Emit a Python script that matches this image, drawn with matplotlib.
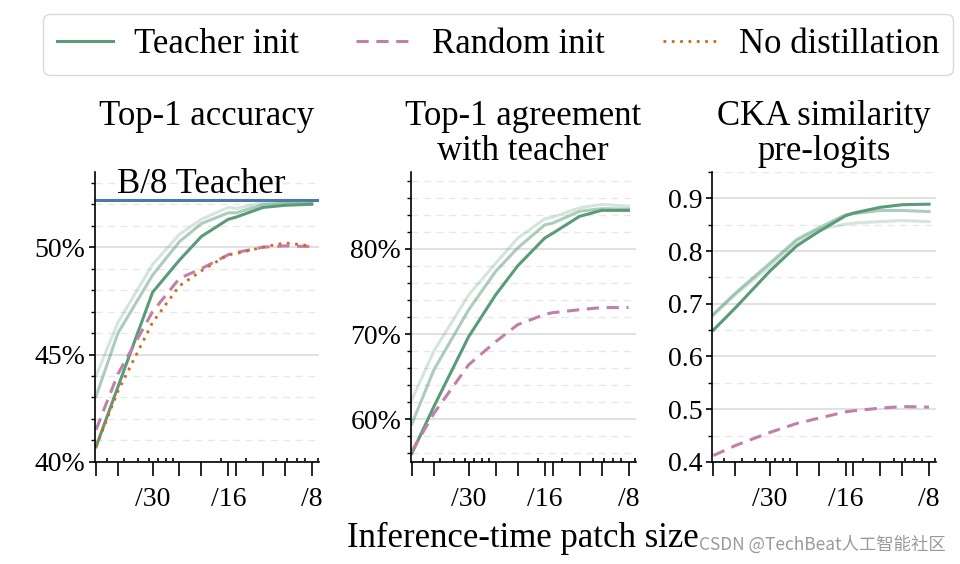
"""
Distillation init comparison across inference-time patch sizes.
Three panels: accuracy, agreement with teacher, CKA similarity.
"""
import numpy as np
import matplotlib
matplotlib.use("Agg")
import matplotlib.pyplot as plt
from matplotlib.lines import Line2D
from matplotlib.ticker import FixedLocator, LogLocator, MultipleLocator, NullFormatter

plt.rcParams['font.family'] = ['Liberation Serif', 'DejaVu Serif']
plt.rcParams['font.size'] = 20
BIG = 25

GREEN = '#5a9b7a'
PURPLE = '#c080aa'
ORANGE = '#d2691e'
BLUE = '#4a78b0'

# Inference-time patch sizes (x axis is log of token count at res 240)
patch_sizes = [48, 40, 30, 24, 20, 16, 15, 12, 10, 8]
labelled_patches = [30, 16, 8]

# Top-1 accuracy (%)
acc_teacher = [40.7, 43.5, 47.9, 49.4, 50.5, 51.3, 51.4, 51.85, 51.95, 52.0]
acc_teacher_mid = [43.05, 46.0, 48.7, 50.26, 51.1, 51.6, 51.6, 51.97, 52.05, 52.07]
acc_teacher_light = [44.0, 46.5, 49.2, 50.6, 51.3, 51.85, 51.8, 52.07, 52.1, 52.1]
acc_random = [41.5, 44.1, 47.0, 48.55, 49.0, 49.65, 49.75, 50.0, 50.06, 50.03]
acc_nodistill = [40.7, 43.3, 46.5, 48.2, 48.9, 49.65, 49.7, 50.0, 50.2, 50.06]
b8_teacher_acc = 52.22

# Top-1 agreement with teacher (%)
agree_teacher = [56.0, 61.5, 69.7, 74.6, 78.0, 81.25, 81.8, 83.8, 84.5, 84.5]
agree_teacher_mid = [59.45, 65.8, 72.85, 77.35, 80.1, 82.8, 83.0, 84.4, 84.7, 84.65]
agree_teacher_light = [62.3, 68.0, 74.6, 78.3, 81.25, 83.5, 83.7, 84.8, 85.2, 85.0]
agree_random = [56.25, 60.7, 66.4, 69.1, 71.1, 72.3, 72.5, 72.85, 73.1, 73.1]

# CKA similarity of pre-logits
cka_teacher = [0.65, 0.692, 0.762, 0.81, 0.837, 0.867, 0.872, 0.883, 0.888, 0.889]
cka_teacher_mid = [0.68, 0.72, 0.777, 0.822, 0.844, 0.869, 0.871, 0.877, 0.877, 0.875]
cka_teacher_light = [0.678, 0.717, 0.771, 0.818, 0.841, 0.851, 0.853, 0.856, 0.858, 0.856]
cka_random = [0.412, 0.431, 0.456, 0.473, 0.483, 0.495, 0.497, 0.502, 0.505, 0.504]


def tokens(p):
    return (240.0 / np.asarray(p, dtype=float)) ** 2


def style_axis(ax, ylim, major, minor, fmt):
    ax.set_xscale('log')
    ax.set_xlim(24.6, 1010)
    ax.xaxis.set_major_locator(FixedLocator(tokens(patch_sizes)))
    ax.set_xticklabels([f'/{p}' if p in labelled_patches else '' for p in patch_sizes])
    ax.xaxis.set_minor_locator(LogLocator(base=10, subs=np.arange(1, 10), numticks=20))
    ax.xaxis.set_minor_formatter(NullFormatter())
    ax.tick_params(axis='x', which='major', direction='out', length=10, width=1.2, pad=8)
    ax.tick_params(axis='x', which='minor', direction='in', length=3, width=1.2)

    ax.set_ylim(*ylim)
    ax.yaxis.set_major_locator(MultipleLocator(major))
    ax.yaxis.set_minor_locator(MultipleLocator(minor))
    ax.yaxis.set_major_formatter(fmt)
    ax.tick_params(axis='y', which='major', direction='out', length=4, width=1.2, pad=3)
    ax.tick_params(axis='y', which='minor', direction='out', length=3, width=1.0)

    ax.grid(axis='y', which='major', color='#dcdcdc', linewidth=1.2, linestyle='-')
    ax.grid(axis='y', which='minor', color='#e8e8e8', linewidth=1.0, linestyle=(0, (5, 4)))
    ax.set_axisbelow(True)
    for s in ['top', 'right']:
        ax.spines[s].set_visible(False)
    for s in ['left', 'bottom']:
        ax.spines[s].set_linewidth(1.2)


def plot_teacher(ax, x, light, mid, dark):
    ax.plot(x, light, color=GREEN, alpha=0.25, lw=2.2)
    ax.plot(x, mid, color=GREEN, alpha=0.5, lw=2.2)
    ax.plot(x, dark, color=GREEN, lw=2.2)


def main():
    fig = plt.figure(figsize=(9.6, 5.64), dpi=100)
    bottom, height = 0.181, 0.514
    ax1 = fig.add_axes([0.099, bottom, 0.233, height])
    ax2 = fig.add_axes([0.428, bottom, 0.234, height])
    ax3 = fig.add_axes([0.742, bottom, 0.233, height])

    x = tokens(patch_sizes)
    pct = lambda v, pos: f'{v:.0f}%'

    # Panel 1: accuracy
    ax1.axhline(b8_teacher_acc, color=BLUE, lw=2.2)
    ax1.text(0.476, 52.53, 'B/8 Teacher', transform=ax1.get_yaxis_transform(),
             ha='center', va='baseline', fontsize=BIG)
    plot_teacher(ax1, x, acc_teacher_light, acc_teacher_mid, acc_teacher)
    ax1.plot(x, acc_random, color=PURPLE, lw=2.2, linestyle=(0, (4, 2.5)))
    ax1.plot(x, acc_nodistill, color=ORANGE, lw=2.0, linestyle=(0, (1, 2)))
    style_axis(ax1, (40, 53.5), 5, 1, pct)

    # Panel 2: agreement
    plot_teacher(ax2, x, agree_teacher_light, agree_teacher_mid, agree_teacher)
    ax2.plot(x, agree_random, color=PURPLE, lw=2.2, linestyle=(0, (4, 2.5)))
    style_axis(ax2, (55, 89), 10, 2, pct)
    ax2.set_xlabel('Inference-time patch size', labelpad=7, fontsize=BIG)

    # Panel 3: CKA
    plot_teacher(ax3, x, cka_teacher_light, cka_teacher_mid, cka_teacher)
    ax3.plot(x, cka_random, color=PURPLE, lw=2.2, linestyle=(0, (4, 2.5)))
    style_axis(ax3, (0.4, 0.95), 0.1, 0.05, lambda v, pos: f'{v:.1f}')

    titles = ['Top-1 accuracy', 'Top-1 agreement\nwith teacher', 'CKA similarity\npre-logits']
    for ax, t in zip([ax1, ax2, ax3], titles):
        ax.text(0.5, 1.25, t, transform=ax.transAxes, ha='center', va='top',
                linespacing=1.1, fontsize=BIG)

    handles = [Line2D([], [], color=GREEN, lw=2.2),
               Line2D([], [], color=PURPLE, lw=2.2, linestyle=(0, (4, 2.5))),
               Line2D([], [], color=ORANGE, lw=2.0, linestyle=(0, (1, 2)))]
    fig.legend(handles, ['Teacher init', 'Random init', 'No distillation'],
               loc='upper center', bbox_to_anchor=(0.519, 0.975), ncol=3,
               frameon=True, edgecolor='#d0d0d0', fancybox=True, fontsize=BIG,
               handlelength=1.6, handletextpad=0.6, columnspacing=1.65,
               borderpad=0.4, borderaxespad=0)

    fig.text(0.985, 0.035, 'CSDN @TechBeat人工智能社区', ha='right', va='center',
             fontsize=12.5, color='#9a9a9a', family=['Noto Sans CJK SC', 'DejaVu Sans'])

    fig.savefig('out.png', dpi=100)


if (__name__ == '__main__'):
    main()
